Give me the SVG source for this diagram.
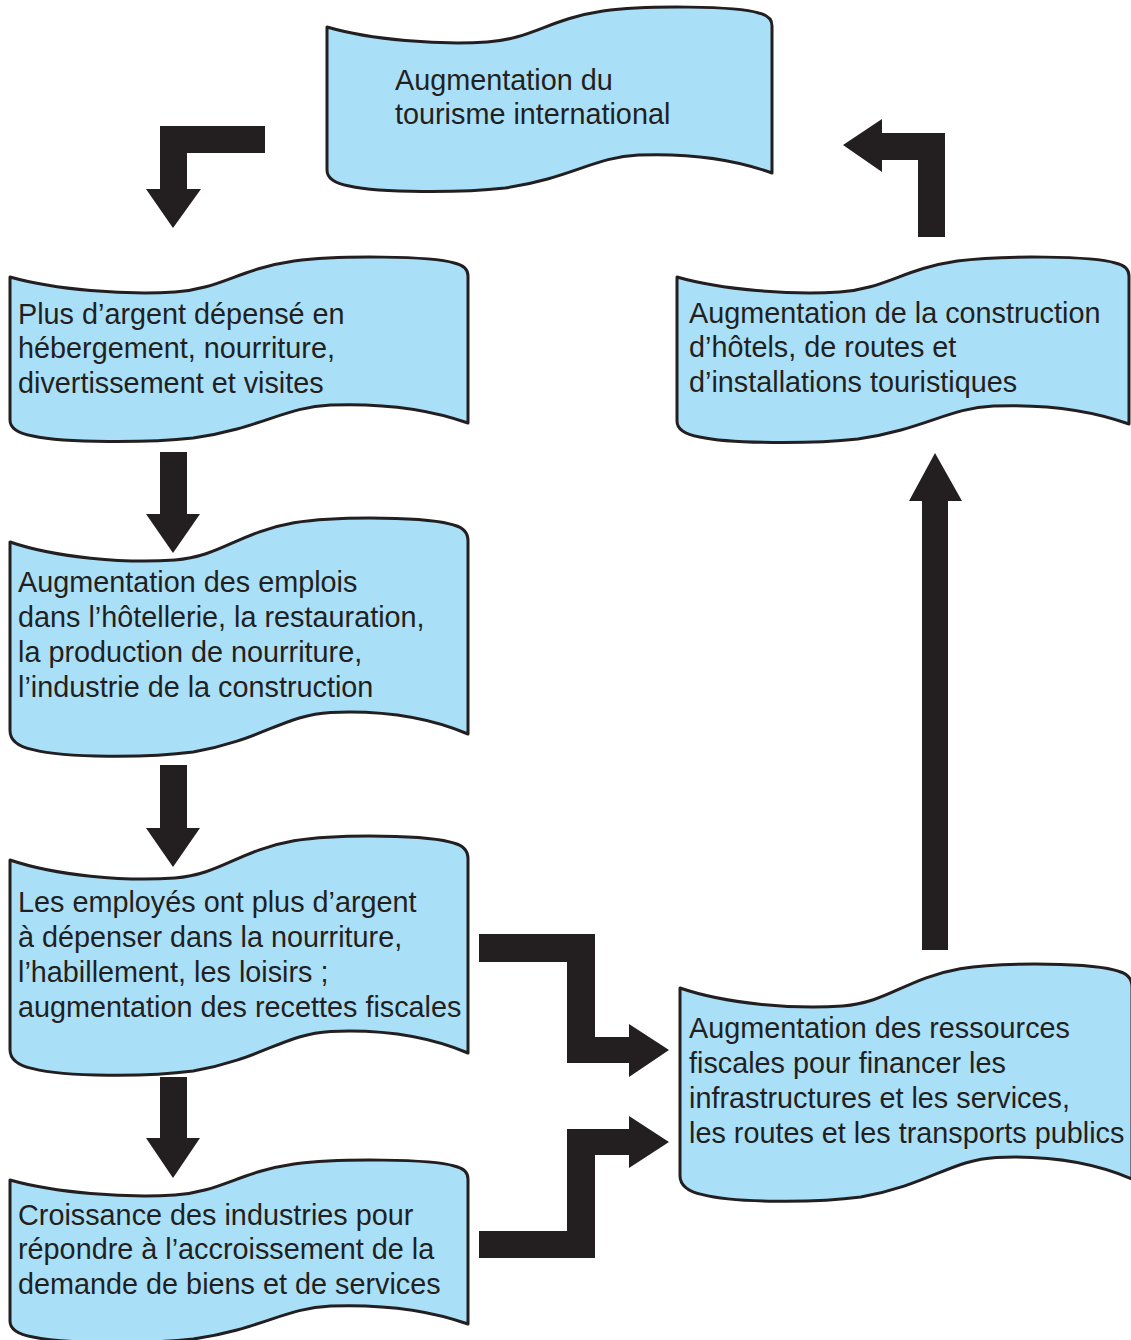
<svg xmlns="http://www.w3.org/2000/svg" width="1131" height="1340" viewBox="0 0 1131 1340">
<style>
.node{fill:#aadff8;stroke:#231f20;stroke-width:3;stroke-linejoin:round}
.arr{fill:#231f20;stroke:none}
text{font-family:"Liberation Sans",Arial,sans-serif;font-size:28.8px;fill:#231f20}
</style>
<rect width="1131" height="1340" fill="#ffffff"/>
<g id="connectors">
<polygon class="arr" points="265,126 160,126 160,189 146,189 173,228 201,189 187,189 187,153 265,153"/>
<polygon class="arr" points="945,237 945,133 882,133 882,119 843,145 882,172 882,160 918,160 918,237"/>
<polygon class="arr" points="160,452 187,452 187,514 200,514 173,553 146,514 160,514"/>
<polygon class="arr" points="160,765 187,765 187,828 200,828 173,867 146,828 160,828"/>
<polygon class="arr" points="160,1077 187,1077 187,1138 200,1138 173,1178 146,1138 160,1138"/>
<polygon class="arr" points="922,950 948,950 948,501 962,501 935,453 909,501 922,501"/>
<polygon class="arr" points="479,934 595,934 595,1037 629,1037 629,1024 669,1050 629,1077 629,1063 567,1063 567,962 479,962"/>
<polygon class="arr" points="479,1258 595,1258 595,1155 629,1155 629,1168 669,1142 629,1116 629,1129 567,1129 567,1231 479,1231"/>
</g>
<g id="n1">
<path class="node" d="M327,27 c44.5,13 111.25,18 160.2,15 c44.5,-3 62.3,-23 115.7,-31 c44.5,-6 133.5,-5 155.75,2 q13.35,3 13.35,13 L772,173 c-35.6,-13 -80.1,-20 -133.5,-18 c-44.5,2 -66.75,23 -133.5,33 c-44.5,5 -124.6,5 -155.75,-2 q-22.25,-4 -22.25,-16 Z"/>
<text x="395" y="90">Augmentation du</text>
<text x="395" y="124">tourisme international</text>
</g>
<g id="n2">
<path class="node" d="M10,277 c45.8,13 114.5,18 164.9,15 c45.8,-3 64.1,-23 119.1,-31 c45.8,-6 137.4,-5 160.3,2 q13.7,3 13.7,13 L468,423 c-36.6,-13 -82.4,-20 -137.4,-18 c-45.8,2 -68.7,23 -137.4,33 c-45.8,5 -128.2,5 -160.3,-2 q-22.9,-4 -22.9,-16 Z"/>
<text x="18" y="324">Plus d’argent dépensé en</text>
<text x="18" y="358">hébergement, nourriture,</text>
<text x="18" y="393">divertissement et visites</text>
</g>
<g id="n3">
<path class="node" d="M10,542 c45.8,15.6 114.5,21.6 164.9,18 c45.8,-3.6 64.1,-27.6 119.1,-37.2 c45.8,-7.2 137.4,-6 160.3,2.4 q13.7,3.6 13.7,15.6 L468,734 c-36.6,-15.6 -82.4,-24 -137.4,-21.6 c-45.8,2.4 -68.7,27.6 -137.4,39.6 c-45.8,6 -128.2,6 -160.3,-2.4 q-22.9,-4.8 -22.9,-19.2 Z"/>
<text x="18" y="592">Augmentation des emplois</text>
<text x="18" y="627">dans l’hôtellerie, la restauration,</text>
<text x="18" y="662">la production de nourriture,</text>
<text x="18" y="697">l’industrie de la construction</text>
</g>
<g id="n4">
<path class="node" d="M10,860 c45.8,15.6 114.5,21.6 164.9,18 c45.8,-3.6 64.1,-27.6 119.1,-37.2 c45.8,-7.2 137.4,-6 160.3,2.4 q13.7,3.6 13.7,15.6 L468,1053 c-36.6,-15.6 -82.4,-24 -137.4,-21.6 c-45.8,2.4 -68.7,27.6 -137.4,39.6 c-45.8,6 -128.2,6 -160.3,-2.4 q-22.9,-4.8 -22.9,-19.2 Z"/>
<text x="18" y="912">Les employés ont plus d’argent</text>
<text x="18" y="947">à dépenser dans la nourriture,</text>
<text x="18" y="982">l’habillement, les loisirs ;</text>
<text x="18" y="1017">augmentation des recettes fiscales</text>
</g>
<g id="n5">
<path class="node" d="M10,1180 c45.8,13 114.5,18 164.9,15 c45.8,-3 64.1,-23 119.1,-31 c45.8,-6 137.4,-5 160.3,2 q13.7,3 13.7,13 L468,1324 c-36.6,-13 -82.4,-20 -137.4,-18 c-45.8,2 -68.7,23 -137.4,33 c-45.8,5 -128.2,5 -160.3,-2 q-22.9,-4 -22.9,-16 Z"/>
<text x="18" y="1225">Croissance des industries pour</text>
<text x="18" y="1259">répondre à l’accroissement de la</text>
<text x="18" y="1294">demande de biens et de services</text>
</g>
<g id="n6">
<path class="node" d="M677,277 c45.2,13 113,18 162.7,15 c45.2,-3 63.3,-23 117.5,-31 c45.2,-6 135.6,-5 158.2,2 q13.6,3 13.6,13 L1129,424 c-36.2,-13 -81.4,-20 -135.6,-18 c-45.2,2 -67.8,23 -135.6,33 c-45.2,5 -126.6,5 -158.2,-2 q-22.6,-4 -22.6,-16 Z"/>
<text x="689" y="323">Augmentation de la construction</text>
<text x="689" y="357">d’hôtels, de routes et</text>
<text x="689" y="392">d’installations touristiques</text>
</g>
<g id="n7">
<path class="node" d="M680,988 c45.2,15.6 113,21.6 162.7,18 c45.2,-3.6 63.3,-27.6 117.5,-37.2 c45.2,-7.2 135.6,-6 158.2,2.4 q13.6,3.6 13.6,15.6 L1132,1179 c-36.2,-15.6 -81.4,-24 -135.6,-21.6 c-45.2,2.4 -67.8,27.6 -135.6,39.6 c-45.2,6 -126.6,6 -158.2,-2.4 q-22.6,-4.8 -22.6,-19.2 Z"/>
<text x="689" y="1038">Augmentation des ressources</text>
<text x="689" y="1073">fiscales pour financer les</text>
<text x="689" y="1108">infrastructures et les services,</text>
<text x="689" y="1143">les routes et les transports publics</text>
</g>
</svg>
